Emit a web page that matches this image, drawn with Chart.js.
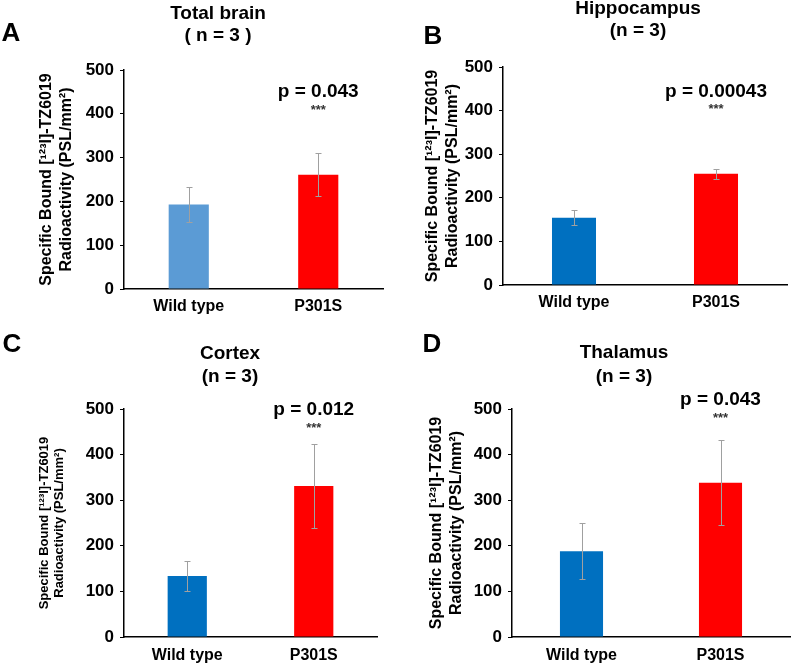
<!DOCTYPE html>
<html>
<head>
<meta charset="utf-8">
<script src="https://cdn.jsdelivr.net/npm/chart.js@4"></script>
<style>
  body { margin: 0; background: #fff; }
  #wrap { position: relative; width: 800px; height: 666px; }
  .panel { position: absolute; width: 400px; height: 333px; }
</style>
</head>
<body>
<div id="wrap">
  <div class="panel" style="left:0;top:0"><canvas id="chartA" width="400" height="333"></canvas></div>
  <div class="panel" style="left:400px;top:0"><canvas id="chartB" width="400" height="333"></canvas></div>
  <div class="panel" style="left:0;top:333px"><canvas id="chartC" width="400" height="333"></canvas></div>
  <div class="panel" style="left:400px;top:333px"><canvas id="chartD" width="400" height="333"></canvas></div>
</div>
<script>
const categories = ['Wild type', 'P301S'];

const totalBrainMeans = [193, 261];
const totalBrainErrors = [40, 49];
const hippocampusMeans = [154, 255];
const hippocampusErrors = [17, 11];
const cortexMeans = [134, 331];
const cortexErrors = [33, 92];
const thalamusMeans = [188, 338];
const thalamusErrors = [61, 93];

const yTicks = [0, 100, 200, 300, 400, 500];
const pLabels = ['p = 0.043', 'p = 0.00043', 'p = 0.012', 'p = 0.043'];
const starLabel = '***';
const panelLetters = ['A', 'B', 'C', 'D'];
const panelTitles = [
    ['Total brain', '( n = 3 )'],
    ['Hippocampus', '(n = 3)'],
    ['Cortex', '(n = 3)'],
    ['Thalamus', '(n = 3)']
];
const yTitle = ['Specific Bound [\u00B9\u00B2\u00B3I]-TZ6019', 'Radioactivity (PSL/mm\u00B2)'];

const FONT = 'Arial, "Liberation Sans", Helvetica, sans-serif';

// layout of each panel (canvas-local pixels)
const panels = [
    { id: 'chartA', means: totalBrainMeans, errors: totalBrainErrors, wtColor: '#5B9BD5',
      area: { left: 124, right: 383, top: 70, bottom: 291 }, titleX: 47, titleSize: 16, labelPad: 8,
      letter: [11, 34], head: [218, 14, 36], pY: 450, starY: 408 },
    { id: 'chartB', means: hippocampusMeans, errors: hippocampusErrors, wtColor: '#0070C0',
      area: { left: 103, right: 387, top: 67, bottom: 289 }, titleX: 33, titleSize: 16, labelPad: 8,
      letter: [33, 37], head: [238, 9, 31], pY: 444, starY: 402 },
    { id: 'chartC', means: cortexMeans, errors: cortexErrors, wtColor: '#0070C0',
      area: { left: 124, right: 377, top: 76, bottom: 304 }, titleX: 44, titleSize: 13, labelPad: 9,
      letter: [12, 12], head: [230, 21, 44], pY: 498, starY: 458 },
    { id: 'chartD', means: thalamusMeans, errors: thalamusErrors, wtColor: '#0070C0',
      area: { left: 112, right: 390, top: 76, bottom: 304 }, titleX: 37, titleSize: 16, labelPad: 9,
      letter: [32, 12], head: [224, 20, 44], pY: 520, starY: 480 }
];

const decorPlugin = {
    id: 'decor',
    afterDatasetsDraw(chart, args, opts) {
        const ctx = chart.ctx;
        const y = chart.scales.y;
        const meta = chart.getDatasetMeta(0);
        ctx.save();
        // error bars
        ctx.strokeStyle = '#a0a0a0';
        ctx.lineWidth = 1;
        meta.data.forEach((bar, i) => {
            const x = Math.round(bar.x) + 0.5;
            const top = Math.round(y.getPixelForValue(opts.means[i] + opts.errors[i])) + 0.5;
            const bot = Math.round(y.getPixelForValue(opts.means[i] - opts.errors[i])) + 0.5;
            ctx.beginPath();
            ctx.moveTo(x, top); ctx.lineTo(x, bot);
            ctx.moveTo(x - 3, top); ctx.lineTo(x + 3, top);
            ctx.moveTo(x - 3, bot); ctx.lineTo(x + 3, bot);
            ctx.stroke();
        });
        // p value above the second bar
        const px = meta.data[1].x;
        ctx.fillStyle = '#000';
        ctx.textAlign = 'center';
        ctx.textBaseline = 'middle';
        ctx.font = 'bold 19px ' + FONT;
        ctx.fillText(opts.pText, px, y.getPixelForValue(opts.pY));
        ctx.font = 'bold 13px ' + FONT;
        ctx.fillStyle = '#333';
        ctx.fillText(starLabel, px, y.getPixelForValue(opts.starY));
        ctx.restore();
    },
    afterDraw(chart, args, opts) {
        const ctx = chart.ctx;
        ctx.save();
        ctx.fillStyle = '#000';
        ctx.textAlign = 'center';
        ctx.textBaseline = 'middle';
        ctx.font = 'bold 26px ' + FONT;
        ctx.fillText(opts.letter, opts.letterPos[0], opts.letterPos[1]);
        ctx.font = 'bold 19px ' + FONT;
        ctx.fillText(opts.title[0], opts.head[0], opts.head[1]);
        ctx.fillText(opts.title[1], opts.head[0], opts.head[2]);
        ctx.restore();
    }
};

panels.forEach((p, k) => {
    const lineH = p.titleSize * 1.2;
    const padLeft = p.titleX - lineH / 2;
    const xAxisH = 40;
    new Chart(document.getElementById(p.id).getContext('2d'), {
        type: 'bar',
        data: {
            labels: categories,
            datasets: [{
                data: p.means,
                backgroundColor: [p.wtColor, '#FF0000'],
                borderWidth: 0,
                categoryPercentage: 1,
                barPercentage: 0.31
            }]
        },
        options: {
            responsive: false,
            animation: false,
            layout: {
                padding: { left: padLeft, top: p.area.top, right: 400 - p.area.right, bottom: Math.max(0, 333 - p.area.bottom - xAxisH) }
            },
            plugins: {
                legend: { display: false },
                tooltip: { enabled: false },
                decor: {
                    means: p.means, errors: p.errors, pText: pLabels[k], pY: p.pY, starY: p.starY,
                    letter: panelLetters[k], letterPos: p.letter, title: panelTitles[k], head: p.head
                }
            },
            scales: {
                x: {
                    grid: { display: false, drawTicks: false },
                    border: { display: true, color: '#000', width: 1.5 },
                    ticks: { color: '#000', padding: p.labelPad, font: { family: FONT, size: 16, weight: 'bold' } },
                    afterFit(scale) { scale.height = 333 - p.area.bottom; }
                },
                y: {
                    min: yTicks[0],
                    max: yTicks[yTicks.length - 1],
                    afterBuildTicks(scale) { scale.ticks = yTicks.map(v => ({ value: v })); },
                    grid: { drawOnChartArea: false, drawTicks: true, tickLength: 4, color: '#000' },
                    border: { display: true, color: '#000', width: 1.5 },
                    ticks: { color: '#000', padding: 6, font: { family: FONT, size: 17, weight: 'bold' } },
                    title: {
                        display: true,
                        text: yTitle,
                        color: '#000',
                        padding: 0,
                        font: { family: FONT, size: p.titleSize, weight: 'bold', lineHeight: 1.2 }
                    },
                    afterFit(scale) { scale.width = p.area.left - padLeft; }
                }
            }
        },
        plugins: [decorPlugin]
    });
});
</script>
</body>
</html>
